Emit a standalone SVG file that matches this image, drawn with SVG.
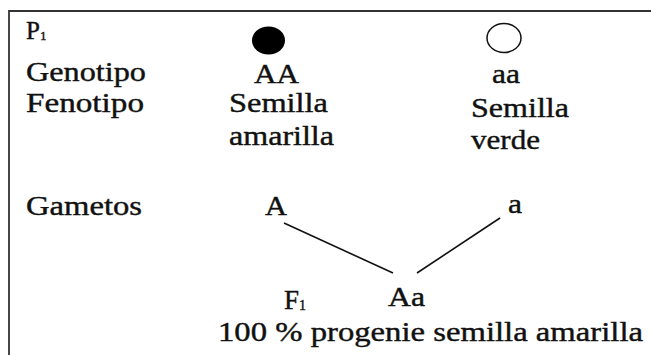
<svg xmlns="http://www.w3.org/2000/svg" width="651" height="355" viewBox="0 0 651 355">
<style>
text{font-family:"Liberation Serif","Times New Roman",serif;font-size:27px;fill:#111;stroke:#111;stroke-width:0.4}
.sub{font-size:14px}
.frame{stroke:#333;stroke-width:1.8;fill:none}
.conn{stroke:#111;stroke-width:1.6;fill:none}
</style>
<rect width="651" height="355" fill="#fff"/>
<g id="frame"><path class="frame" d="M9,356 V11 H652"/></g>
<g id="labels">
<text x="26" y="39" style="font-size:25px">P<tspan style="font-size:13px" dy="1">1</tspan></text>
<text x="26" y="81" textLength="120" lengthAdjust="spacingAndGlyphs">Genotipo</text>
<text x="26" y="112" textLength="118" lengthAdjust="spacingAndGlyphs">Fenotipo</text>
<text x="26" y="215" textLength="116" lengthAdjust="spacingAndGlyphs">Gametos</text>
</g>
<g id="parent1">
<ellipse cx="268.5" cy="40.5" rx="16.5" ry="14" fill="#000"/>
<text x="254" y="83" textLength="45" lengthAdjust="spacingAndGlyphs">AA</text>
<text x="229" y="112" textLength="99" lengthAdjust="spacingAndGlyphs">Semilla</text>
<text x="229" y="145" textLength="105" lengthAdjust="spacingAndGlyphs">amarilla</text>
</g>
<g id="parent2">
<ellipse cx="504" cy="38" rx="17" ry="14.5" fill="none" stroke="#111" stroke-width="1.5"/>
<text x="492" y="83" textLength="28" lengthAdjust="spacingAndGlyphs">aa</text>
<text x="471" y="117" textLength="98" lengthAdjust="spacingAndGlyphs">Semilla</text>
<text x="471" y="149" textLength="69" lengthAdjust="spacingAndGlyphs">verde</text>
</g>
<g id="gameteA"><text x="265" y="215" textLength="22" lengthAdjust="spacingAndGlyphs">A</text></g>
<g id="gamete_a"><text x="508" y="213" textLength="14" lengthAdjust="spacingAndGlyphs">a</text></g>
<g id="connectors">
<line class="conn" x1="284" y1="223" x2="393" y2="273"/>
<line class="conn" x1="417" y1="273" x2="500" y2="218"/>
</g>
<g id="F1">
<text x="284" y="309">F<tspan class="sub" dy="1">1</tspan></text>
<text x="388" y="306" textLength="37" lengthAdjust="spacingAndGlyphs">Aa</text>
<text x="218" y="341" textLength="425" lengthAdjust="spacingAndGlyphs">100 % progenie semilla amarilla</text>
</g>
</svg>
